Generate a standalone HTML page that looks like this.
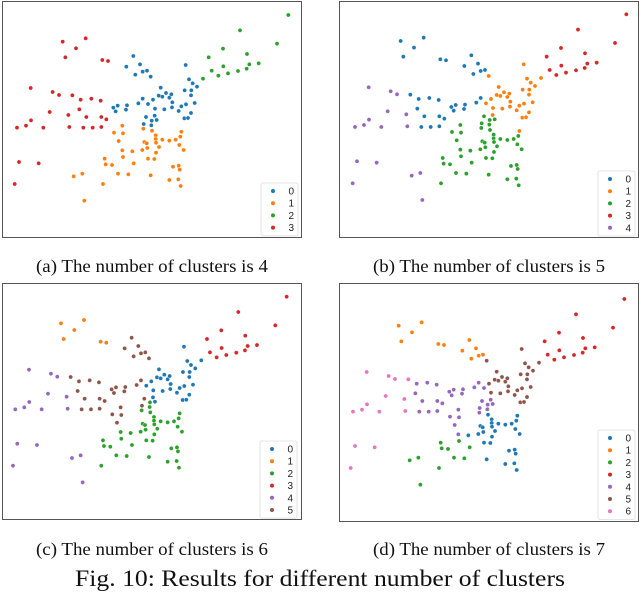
<!DOCTYPE html>
<html><head><meta charset="utf-8">
<style>
body{margin:0;background:#fff;width:640px;height:595px;overflow:hidden;font-family:"Liberation Serif",serif;}
svg{position:absolute;left:0;top:0}
</style></head>
<body>
<svg id="fig" width="640" height="595"></svg>
<script>
// point coordinates (reference units, shared embedding across all panels)
const xs=[188,257,228,196,307,324,92,158,177,217,242,274,302,238,149,205,259,304,319,93,78,51,130,208,250,278,304,57,116,44,
400,379,420,406,428,441,452,557,567,578,591,482,498,476,487,508,514,554,574,573,428,459,415,444,517,340,353,381,347,378,465,493,516,544,558,584,536,573,438,464,455,470,431,454,553,564,
865,720,831,669,741,626,748,776,670,635,655,684,714,740,609,
367,430,342,369,456,544,467,541,356,467,487,508,527,433,468,440,367,397,427,442,477,538,551,468,369,444,463,314,401,317,336,519,536,539,354,385,452,247,221,508,535,309,542,253];
const ys=[125,115,145,172,180,183,264,276,285,286,299,296,302,328,336,345,351,351,358,361,377,383,383,381,383,383,381,486,490,552,
168,200,193,224,215,212,230,195,238,250,260,263,279,287,290,293,283,271,271,286,296,299,310,312,307,323,317,316,334,329,326,328,322,319,313,309,333,339,351,347,362,360,372,376,355,354,
45,91,131,146,162,172,193,190,199,212,227,220,213,206,236,
377,386,398,400,392,395,406,410,423,417,419,422,419,426,428,430,451,454,450,444,441,435,450,458,471,476,477,476,490,493,495,500,497,509,521,523,526,521,529,540,538,552,558,602];
// cluster memberships (1-based point ids) per panel
const clustersA={0:[[31,76]],1:[[92,135]],2:[[77,91]],3:[[1,30]]};
const membersB={
 0:[1,2,3,4,5,6,10,11,12,13,14,17,18,19,25,26,27,31,32,33,34,35,36,51,53,56,57,58,59,60],
 1:[37,38,39,40,41,42,43,44,45,46,47,48,49,50,52,54,55,61,62,63,64,65,66,67,68,70,75,76,91,97],
 3:[77,78,79,80,81,82,83,84,85,86,87,88,89,90],
 4:[7,8,9,15,16,20,21,22,23,24,28,29,30,129,130,135]};
const membersC={
 1:[1,2,3,4,5,6],
 5:[10,11,12,13,14,17,18,19,25,26,27,31,32,33,34,35,36,37,51,53,56,57,58,59,60,69,73,92,94,95,100],
 0:[38,39,40,41,42,43,44,45,46,47,48,49,50,52,54,55,61,62,63,64,65,66,67,68,70,72,75,76,91],
 3:[77,78,79,80,81,82,83,84,85,86,87,88,89,90],
 4:[7,8,9,15,16,20,21,22,23,24,28,29,30,129,130,135]};
const membersD={
 1:[1,2,3,4,5,6,31,32,33,34,35,36],
 6:[7,8,9,10,15,16,20,21,22,23,24,28,29,30],
 2:[116,119,120,121,122,126,127,129,130,133,135],
 4:[11,12,13,14,17,18,19,25,26,27,51,53,54,56,57,58,59,60,69,70,71,72,73,74,92,93,94,95,100,108],
 5:[37,38,39,40,41,42,43,44,45,46,47,48,49,50,52,55,61,62,63,64,65,66,67,68,75,76,91],
 3:[77,78,79,80,81,82,83,84,85,86,87,88,89,90]};
const palette=["#1f77b4","#ff7f0e","#2ca02c","#d62728","#9467bd","#8c564b","#e377c2"];
const captions=["(a) The number of clusters is 4","(b) The number of clusters is 5","(c) The number of clusters is 6","(d) The number of clusters is 7"];
const kCounts=[4,5,6,7];

const N=xs.length;
function labelsFrom(mem,def){const l=new Array(N).fill(def);for(const k in mem){mem[k].forEach(i=>l[i-1]=+k);}return l;}
function labelsRanges(r){const l=new Array(N).fill(0);for(const k in r){r[k].forEach(([a,b])=>{for(let i=a;i<=b;i++)l[i-1]=+k;});}return l;}
const labels=[labelsRanges(clustersA),labelsFrom(membersB,2),labelsFrom(membersC,2),labelsFrom(membersD,0)];

const panels=[
 {x0:2,y0:1,x1:302,y1:238,ox:0,oy:0,lx:261,ly:183,cap:272},
 {x0:339,y0:1,x1:639,y1:238,ox:338,oy:-0.7,lx:598,ly:171,cap:272},
 {x0:2,y0:283,x1:302,y1:520,ox:-1.7,oy:281.7,lx:260,ly:441,cap:555},
 {x0:339,y0:283,x1:639,y1:522,ox:336,oy:284,lx:598,ly:430,cap:555}];
const NS="http://www.w3.org/2000/svg";
const svg=document.getElementById('fig');
function mk(t,a,p){const e=document.createElementNS(NS,t);for(const k in a)e.setAttribute(k,a[k]);(p||svg).appendChild(e);return e;}
panels.forEach((P,pi)=>{
  const g=mk('g',{});
  
  
  const fr=mk('rect',{x:P.x0+0.5,y:P.y0+0.5,width:P.x1-P.x0-1,height:P.y1-P.y0-1,fill:'#fff',stroke:'#555','stroke-width':1},g);
  
  
  const sx=v=>P.ox+v/3, sy=v=>P.oy+v/3;
  for(let i=0;i<N;i++){
    const c=mk('circle',{cx:sx(xs[i]),cy:sy(ys[i]),r:2.1,fill:palette[labels[pi][i]],stroke:'#fff','stroke-width':0.4},g);
    
    
  }
  const k=kCounts[pi];
  const lg=mk('g',{},g);
  
  
  mk('rect',{x:P.lx,y:P.ly,width:37,height:k*12.2+4,rx:2,fill:'#fff',stroke:'#ddd','stroke-width':0.8},lg);
  for(let j=0;j<k;j++){
    const yy=P.ly+8+j*12.2;
    const m=mk('circle',{cx:P.lx+12,cy:yy,r:2,fill:palette[j]},lg);
    
    
    const t=mk('text',{x:P.lx+33,y:yy+3.5,'text-anchor':'end','font-size':'10','font-family':'"Liberation Sans",sans-serif',fill:'#222'},lg);
    t.textContent=String(j);
    
    
  }
  const cap=mk('text',{x:(P.x0+P.x1)/2,y:P.cap,'text-anchor':'middle','font-size':'18','textLength':'232','lengthAdjust':'spacingAndGlyphs','font-family':'"Liberation Serif",serif',fill:'#111'});
  cap.textContent=captions[pi];
  
  
});
const fc=mk('text',{x:320,y:586,'text-anchor':'middle','font-size':'23','textLength':'490','lengthAdjust':'spacingAndGlyphs','font-family':'"Liberation Serif",serif',fill:'#111'});
fc.textContent="Fig. 10: Results for different number of clusters";


</script>
</body></html>
